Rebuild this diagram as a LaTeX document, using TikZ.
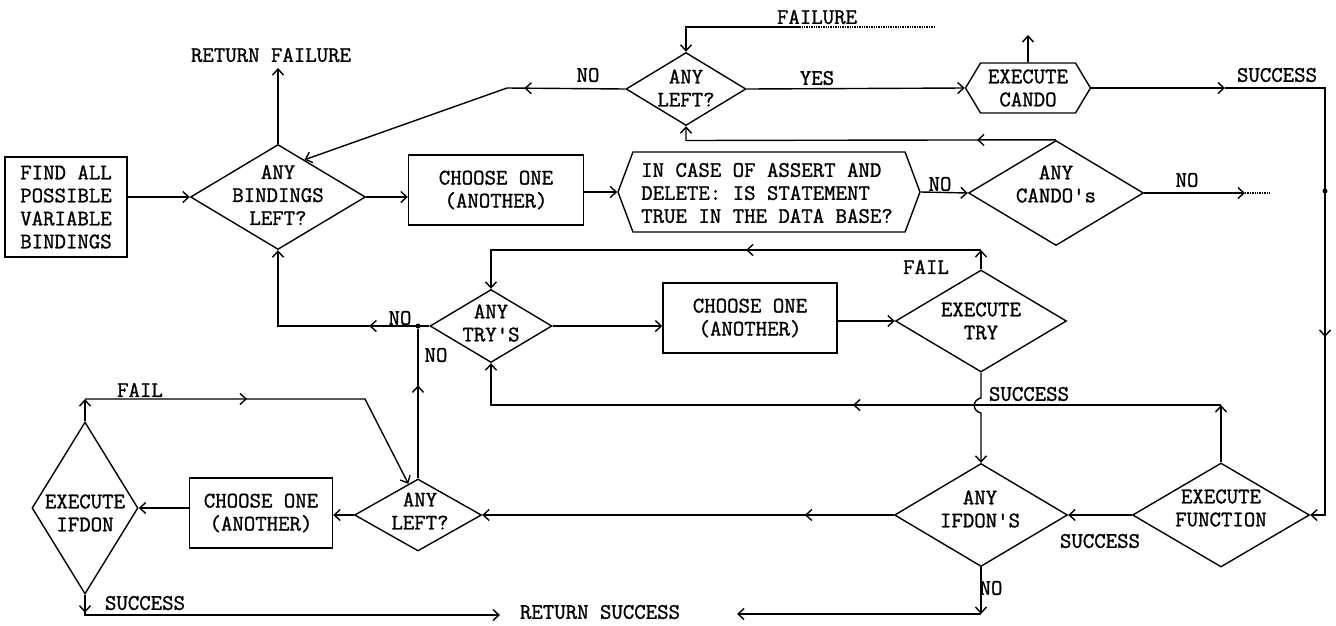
\documentclass[tikz,border=0pt]{standalone}
\usepackage{fontspec}
\newfontfamily\tw{Latin Modern Mono}[BoldFont={Latin Modern Mono}, BoldFeatures={FakeBold=1.2}]
\usetikzlibrary{shapes.geometric,shapes.symbols,arrows.meta,decorations.markings,calc}
\tikzset{
  >={Straight Barb[length=6pt,width=11pt]},
  ln/.style={line width=1.4pt},
  txt/.style={font=\tw\bfseries\fontsize{22.2pt}{23pt}\selectfont, inner sep=0pt, align=center},
  box/.style={draw, ln, rectangle, txt},
  dia/.style={diamond, draw, ln, inner sep=0pt},
  hex/.style={signal, signal to=west and east, draw, ln, inner sep=0pt},
  mid/.style={postaction={decorate,decoration={markings,mark=at position #1 with {\arrow{>}}}}},
  jdot/.style={circle, fill, inner sep=0pt, minimum size=5pt},
}
\begin{document}
\begin{tikzpicture}[x=1pt,y=-1pt]
\useasboundingbox (0,0) rectangle (1336,625);
% ---- nodes ----
\node[box,minimum width=122pt,minimum height=100pt] (find) at (66,207) {FIND ALL\\POSSIBLE\\VARIABLE\\BINDINGS};
\node[dia,minimum width=175pt,minimum height=105pt] (bind) at (278,197) {};
\node[txt] (bindt) at (278,195) {ANY\\BINDINGS\\LEFT?};
\node[txt] (retf) at (271,55) {RETURN FAILURE};
\node[box,minimum width=175pt,minimum height=70pt] (ch1) at (496,190) {CHOOSE ONE\\(ANOTHER)};
\node[hex,signal pointer angle=139,minimum width=302pt,minimum height=80pt] (case) at (769,192) {};
\node[txt,align=left] (caset) at (767,193) {IN CASE OF ASSERT AND\\DELETE: IS STATEMENT\\TRUE IN THE DATA BASE?};
\node[dia,minimum width=175pt,minimum height=105pt] (cdos) at (1056,193) {};
\node[txt] (cdost) at (1056,184) {ANY\\CANDO's};
\node[dia,minimum width=120pt,minimum height=73pt] (anyl1) at (686,89) {};
\node[txt] (anyl1t) at (686,88) {ANY\\LEFT?};
\node[hex,signal pointer angle=118,minimum width=125pt,minimum height=50pt] (cando) at (1028,88) {};
\node[txt] (candot) at (1028,88) {EXECUTE\\CANDO};
\node[dia,minimum width=122pt,minimum height=73pt] (tys) at (491,326) {};
\node[txt] (tyst) at (491,323) {ANY\\TRY'S};
\node[box,minimum width=174pt,minimum height=70pt] (ch2) at (750,318) {CHOOSE ONE\\(ANOTHER)};
\node[dia,minimum width=171pt,minimum height=102pt] (etry) at (981,321) {};
\node[txt] (etryt) at (981,321) {EXECUTE\\TRY};
\node[dia,minimum width=173pt,minimum height=103pt] (ifd) at (981,515) {};
\node[txt] (ifdt) at (980,509) {ANY\\IFDON'S};
\node[dia,minimum width=177pt,minimum height=104pt] (efun) at (1221,515) {};
\node[txt] (efunt) at (1221,508) {EXECUTE\\FUNCTION};
\node[dia,minimum width=127pt,minimum height=72pt] (lleft) at (418,515) {};
\node[txt] (lleftt) at (420,511) {ANY\\LEFT?};
\node[box,minimum width=143pt,minimum height=70pt] (ch3) at (261,513) {CHOOSE ONE\\(ANOTHER)};
\node[dia,minimum width=106pt,minimum height=172pt] (eifd) at (85,508) {};
\node[txt] (eifdt) at (85,513) {EXECUTE\\IFDON};
\node[txt] (rets) at (600,612) {RETURN SUCCESS};
% ---- labels ----
\node[txt] (lfailure) at (817,17) {FAILURE};
\node[txt] (lno1) at (588,75) {NO};
\node[txt] (lyes) at (817,78) {YES};
\node[txt] (lsucc1) at (1277,75) {SUCCESS};
\node[txt] (lno2) at (940,184) {NO};
\node[txt] (lno3) at (1187,180) {NO};
\node[txt] (lfail1) at (926,267) {FAIL};
\node[txt] (lno4) at (400,318) {NO};
\node[txt] (lno5) at (436,355) {NO};
\node[txt] (lsucc2) at (1029,394) {SUCCESS};
\node[txt] (lsucc3) at (1100,541) {SUCCESS};
\node[txt] (lno6) at (991,588) {NO};
\node[txt] (lfail2) at (140,390) {FAIL};
\node[txt] (lsucc4) at (145,603) {SUCCESS};
% ---- coordinates ----
\coordinate (rf) at (278,68);
\coordinate (n1) at (507,88);
\coordinate (f1) at (935,27);
\coordinate (f2) at (800,27);
\coordinate (f3) at (686,27);
\coordinate (ct1) at (686,140.5);
\coordinate (cu) at (1028,35);
\coordinate (cs1) at (1225,88);
\coordinate (rt) at (1325,88);
\coordinate (rb) at (1325,515);
\coordinate (cn1) at (1245,193);
\coordinate (cn2) at (1270,193);
\node[jdot] (jd1) at (1325,191) {};
\coordinate (e1) at (981,250);
\coordinate (e2) at (491,250);
\coordinate (j0) at (278,326);
\node[jdot] (jd2) at (418,326) {};
\coordinate (h1) at (981,398);
\coordinate (h1a) at (972,400);
\coordinate (h2a) at (972,411);
\coordinate (h2) at (981,413);
\coordinate (g1) at (1221,405);
\coordinate (g2) at (491,405);
\coordinate (b1) at (981,614);
\coordinate (b2) at (737,614);
\coordinate (k1) at (85,399);
\coordinate (k2) at (365,399);
\coordinate (s1) at (85,615);
\coordinate (s2) at (500,615);
% ---- connectors ----
\draw[ln,->] (find.east |- bind.west) -- (bind.west);
\draw[ln,->] (bind.north) -- (rf);
\draw[ln,->] (bind.east) -- (bind.east -| ch1.west);
\draw[ln,->] (ch1.east |- case.west) -- (case.west);
\draw[ln,->] (case.east) -- (cdos.west);
\draw[ln,->] (cdos.east) -- (cn1);
\draw[ln,densely dotted] (cn1) -- (cn2);
\draw[ln,->] (anyl1.east) -- (cando.west);
\draw[ln,->] (cando.north) -- (cu);
\draw[ln,->] (cando.east) -- (cs1);
\draw[ln,->,mid=349pt] (cs1) -- (rt) -- (rb) -- (efun.east);
\draw[ln,->,mid=101pt] (anyl1.west) -- (n1) -- ($(bind.north)!0.3!(bind.east)$);
\draw[ln,densely dotted] (f1) -- (f2);
\draw[ln,->] (f2) -- (f3) -- (anyl1.north);
\draw[ln,->,mid=79pt] (cdos.north) -- (ct1) -- (anyl1.south);
\draw[ln,->] (tys.east) -- (tys.east -| ch2.west);
\draw[ln,->] (ch2.east |- etry.west) -- (etry.west);
\draw[ln,->] (etry.north) -- (e1);
\draw[ln,->,mid=235pt] (e1) -- (e2) -- (tys.north);
\draw[ln,->,mid=60pt] (tys.west) -- (j0) -- (bind.south);
\draw[ln,mid=93pt] (lleft.north) -- (jd2);
\draw[ln,->] (etry.south) -- (h1) .. controls (h1a) and (h2a) .. (h2) -- (ifd.north);
\draw[ln,->] (efun.north) -- (g1);
\draw[ln,->,mid=368pt] (g1) -- (g2) -- (tys.south);
\draw[ln,->] (efun.west) -- (ifd.east);
\draw[ln,->,mid=89pt] (ifd.west) -- (lleft.east);
\draw[ln,->] (ifd.south) -- (b1);
\draw[ln,->] (b1) -- (b2);
\draw[ln,->] (lleft.west) -- (lleft.west -| ch3.east);
\draw[ln,->] (ch3.west |- eifd.east) -- (eifd.east);
\draw[ln,->] (eifd.north) -- (k1);
\draw[ln,->,mid=162pt] (k1) -- (k2) -- ($(lleft.north)!0.15!(lleft.west)$);
\draw[ln,->,mid=18pt] (eifd.south) -- (s1) -- (s2);
\end{tikzpicture}
\end{document}
